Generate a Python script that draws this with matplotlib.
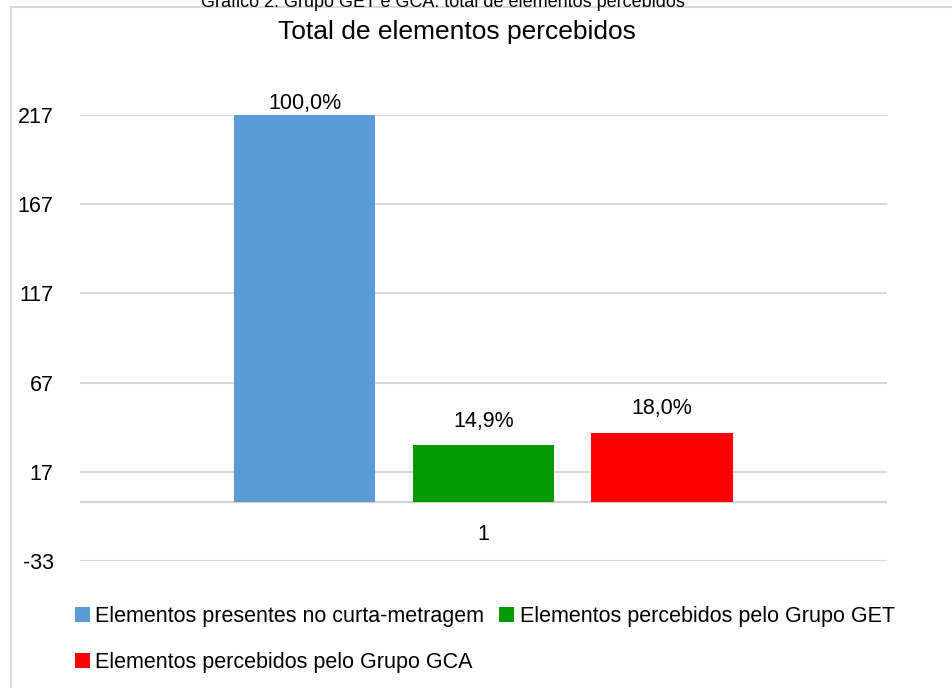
import matplotlib.pyplot as plt
from matplotlib.patches import Rectangle
import numpy as np

plt.rcParams['font.family'] = ['Liberation Sans', 'DejaVu Sans']

series = ['Elementos presentes no curta-metragem',
          'Elementos percebidos pelo Grupo GET',
          'Elementos percebidos pelo Grupo GCA']
values = [217, 32, 39]
pct_labels = ['100,0%', '14,9%', '18,0%']
colors = ['#5b9bd5', '#009900', '#ff0000']
yticks = [-33, 17, 67, 117, 167, 217]

fig = plt.figure(figsize=(9.53, 6.88), dpi=100)
ax = fig.add_axes([0.0839, 0.1846, 0.8468, 0.6482])

# outer chart border (goes off the right and bottom edge)
fig.patches.append(Rectangle((11 / 953, -0.05), 1.0, 1 - 7 / 688 + 0.05,
                             transform=fig.transFigure, fill=False,
                             edgecolor='#d9d9d9', linewidth=1.5))

fig.text(0.465, 0.997, 'Gráfico 2: Grupo GET e GCA: total de elementos percebidos',
         ha='center', va='center', fontsize=13)
fig.text(0.4796, 0.953, 'Total de elementos percebidos', ha='center', va='center',
         fontsize=19)

pos = np.arange(len(values)) - 1
bars = []
for i in range(len(values)):
    b = ax.bar(pos[i], values[i], width=0.79, color=colors[i], label=series[i], zorder=3)
    bars.append(b)

offsets = [8, 17, 17]
for i in range(len(values)):
    ax.annotate(pct_labels[i], (pos[i], values[i]), xytext=(0, offsets[i]),
                textcoords='offset points', ha='center', va='center', fontsize=15.5)

ax.set_ylim(-33, 217)
ax.set_xlim(-2.26, 2.26)
ax.set_yticks(yticks)
ax.set_yticklabels([str(t) for t in yticks], fontsize=15.5)
ax.set_xticks([])
ax.text(0, -18, '1', ha='center', va='center', fontsize=15.5)
ax.grid(axis='y', color='#d9d9d9', linewidth=1.5, zorder=0)
ax.axhline(0, color='#d0d0d0', linewidth=1.5, zorder=1)
ax.tick_params(axis='y', length=0, pad=19)
for s in ax.spines.values():
    s.set_visible(False)

handles = [bars[0], bars[2], bars[1]]
labels = [series[0], series[2], series[1]]
fig.legend(handles, labels, ncol=2, loc='upper left', bbox_to_anchor=(0.067, 0.135),
           frameon=False, fontsize=15.5, handlelength=0.7, handleheight=0.7,
           handletextpad=0.25, columnspacing=0.7, labelspacing=1.15, borderpad=0)

fig.savefig('out.png', dpi=100)
